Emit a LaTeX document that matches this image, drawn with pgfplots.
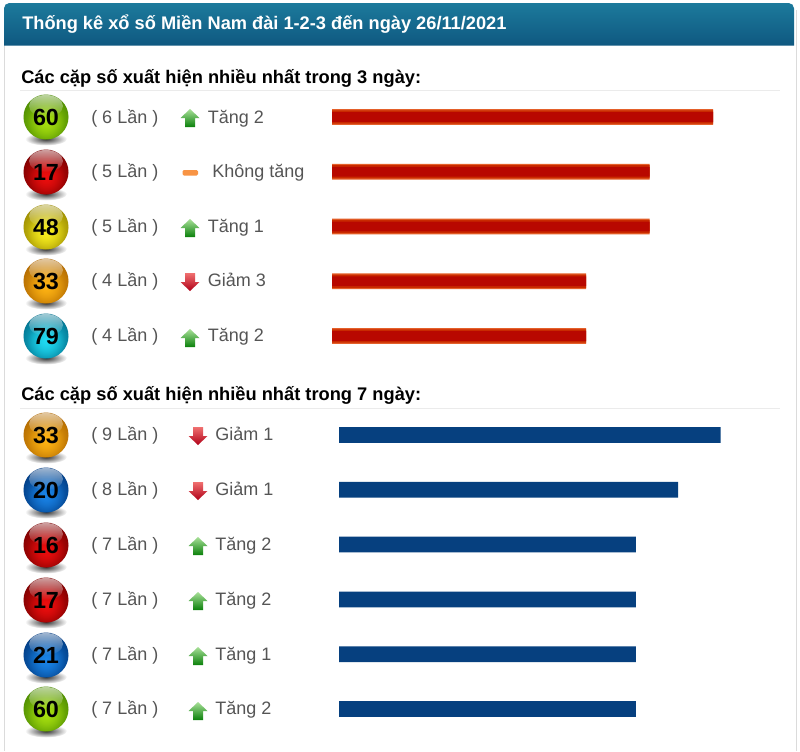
\documentclass[border=0pt]{standalone}
\usepackage{pgfplots}
\pgfplotsset{compat=1.18}
\usepackage{pgfplotstable}
\usepackage{fontspec}
\setmainfont{Liberation Sans}
\usetikzlibrary{fadings}
\definecolor{txt}{HTML}{555555}
\definecolor{redmid}{HTML}{B80800}
\definecolor{redinner}{HTML}{C92A00}
\definecolor{rededge}{HTML}{E4602A}
\definecolor{navy}{HTML}{06407F}
\definecolor{dashcol}{HTML}{F89444}
\definecolor{upT}{HTML}{A8E098}
\definecolor{upB}{HTML}{0A800A}
\definecolor{dnT}{HTML}{F07070}
\definecolor{dnB}{HTML}{B00018}
\tikzfading[name=fuzzy,inner color=transparent!0,outer color=transparent!100]
\pgfplotstableread{
row count
0 6
1 5
2 5
3 4
4 4
}\threedays
\pgfplotstableread{
row count
0 9
1 8
2 7
3 7
4 7
5 7
}\sevendays
\definecolor{gD}{HTML}{4A8A00}\definecolor{gL}{HTML}{A8E010}
\definecolor{rD}{HTML}{7A0000}\definecolor{rL}{HTML}{EE0E0E}
\definecolor{yD}{HTML}{9A8A00}\definecolor{yL}{HTML}{FAF020}
\definecolor{oD}{HTML}{B06800}\definecolor{oL}{HTML}{FFB414}
\definecolor{cD}{HTML}{006F8C}\definecolor{cL}{HTML}{20DCF4}
\definecolor{bD}{HTML}{003A80}\definecolor{bL}{HTML}{1A84E8}
\newcommand{\ball}[5]{%
  \fill[black,opacity=.8,path fading=fuzzy] (#1,#2+22) ellipse (21 and 6.5);
  \fill[#4] (#1,#2) circle (22.5);
  \begin{scope}
    \clip (#1,#2) circle (22.5);
    \fill[#3,path fading=fuzzy] (#1,#2+4) circle (27);
    \fill[#3,opacity=.7,path fading=fuzzy] (#1,#2+6) circle (19);
  \end{scope}
  \fill[white,opacity=.62,path fading=south] (#1,#2-11) ellipse (17 and 11);
  \node[font=\bfseries\fontsize{17.5pt}{17pt}\selectfont,text=black,inner sep=0pt] at (#1,#2+.5) {#5};
}
\newcommand{\up}[2]{%
  \shade[top color=upT,bottom color=upB] (#1,#2-9) -- (#1+9.5,#2) -- (#1+5,#2) -- (#1+5,#2+9) -- (#1-5,#2+9) -- (#1-5,#2) -- (#1-9.5,#2) -- cycle;
}
\newcommand{\down}[2]{%
  \shade[top color=dnT,bottom color=dnB] (#1,#2+9) -- (#1+9.5,#2) -- (#1+5,#2) -- (#1+5,#2-9) -- (#1-5,#2-9) -- (#1-5,#2) -- (#1-9.5,#2) -- cycle;
}
\newcommand{\lab}[3]{\node[anchor=base west,font=\fontsize{13.5pt}{14pt}\selectfont,text=txt,inner sep=0pt] at (#1,#2) {#3};}
\newcommand{\head}[2]{\node[anchor=base west,font=\bfseries\fontsize{13.7pt}{14pt}\selectfont,text=black,inner sep=0pt] at (21,#1) {#2};}
\begin{document}
\begin{tikzpicture}[x=.75pt,y=-.75pt]
\useasboundingbox (0,0) rectangle (800,751);
\fill[white] (0,0) rectangle (800,751);
\draw[black!14,line width=.75pt] (4.5,751) -- (4.5,30) (796.5,751) -- (796.5,10);
\shade[top color={rgb,255:red,28;green,122;blue,156},bottom color={rgb,255:red,15;green,88;blue,128}] (4,45.5) [rounded corners=4pt] -- (4,3) -- (794,3) [sharp corners] -- (794,45.5) -- cycle;
\node[anchor=base west,font=\bfseries\fontsize{13.67pt}{14pt}\selectfont,text=white,inner sep=0pt] at (22,29) {Thống kê xổ số Miền Nam đài 1-2-3 đến ngày 26/11/2021};
\head{83}{Các cặp số xuất hiện nhiều nhất trong 3 ngày:}
\head{400}{Các cặp số xuất hiện nhiều nhất trong 7 ngày:}
\draw[black!8,line width=.75pt] (20,90.5) -- (780,90.5) (20,408.5) -- (780,408.5);

\begin{axis}[at={(249pt,-67.2pt)},anchor=north west,scale only axis,hide axis,
  width=285.75pt,height=205.3pt,xmin=0,xmax=6,ymin=-.5,ymax=4.5,y dir=reverse,clip=false]
\addplot[xbar,bar width=11.8pt,bar shift=0pt,draw=none,fill=rededge] table[x=count,y=row] {\threedays};
\addplot[xbar,bar width=9.8pt,bar shift=0pt,draw=none,fill=redinner] table[x=count,y=row] {\threedays};
\addplot[xbar,bar width=7.2pt,bar shift=0pt,draw=none,fill=redmid] table[x=count,y=row] {\threedays};
\end{axis}
\begin{axis}[at={(254.25pt,-305.7pt)},anchor=north west,scale only axis,hide axis,
  width=286.2pt,height=246.6pt,xmin=0,xmax=9,ymin=-.5,ymax=5.5,y dir=reverse,clip=false]
\addplot[xbar,bar width=11.8pt,bar shift=0pt,draw=none,fill=navy] table[x=count,y=row] {\sevendays};
\end{axis}

\ball{46}{117}{gL}{gD}{60}
\ball{46}{172}{rL}{rD}{17}
\ball{46}{227}{yL}{yD}{48}
\ball{46}{281}{oL}{oD}{33}
\ball{46}{336}{cL}{cD}{79}
\ball{46}{435}{oL}{oD}{33}
\ball{46}{490}{bL}{bD}{20}
\ball{46}{545}{rL}{rD}{16}
\ball{46}{600}{rL}{rD}{17}
\ball{46}{655}{bL}{bD}{21}
\ball{46}{709}{gL}{gD}{60}

\lab{91}{123}{( 6 Lần )}\up{190}{118}\lab{207.5}{123}{Tăng 2}
\lab{91}{177}{( 5 Lần )}\fill[dashcol,rounded corners=1pt] (182.5,170) rectangle (198,175.5);\lab{212}{177}{Không tăng}
\lab{91}{232}{( 5 Lần )}\up{190}{228}\lab{207.5}{232}{Tăng 1}
\lab{91}{286}{( 4 Lần )}\down{190}{282}\lab{207.5}{286}{Giảm 3}
\lab{91}{341}{( 4 Lần )}\up{190}{338}\lab{207.5}{341}{Tăng 2}
\lab{91}{440}{( 9 Lần )}\down{198}{436}\lab{215}{440}{Giảm 1}
\lab{91}{495}{( 8 Lần )}\down{198}{491}\lab{215}{495}{Giảm 1}
\lab{91}{550}{( 7 Lần )}\up{198}{546}\lab{215}{550}{Tăng 2}
\lab{91}{605}{( 7 Lần )}\up{198}{601}\lab{215}{605}{Tăng 2}
\lab{91}{660}{( 7 Lần )}\up{198}{656}\lab{215}{660}{Tăng 1}
\lab{91}{714}{( 7 Lần )}\up{198}{711}\lab{215}{714}{Tăng 2}
\end{tikzpicture}
\end{document}
